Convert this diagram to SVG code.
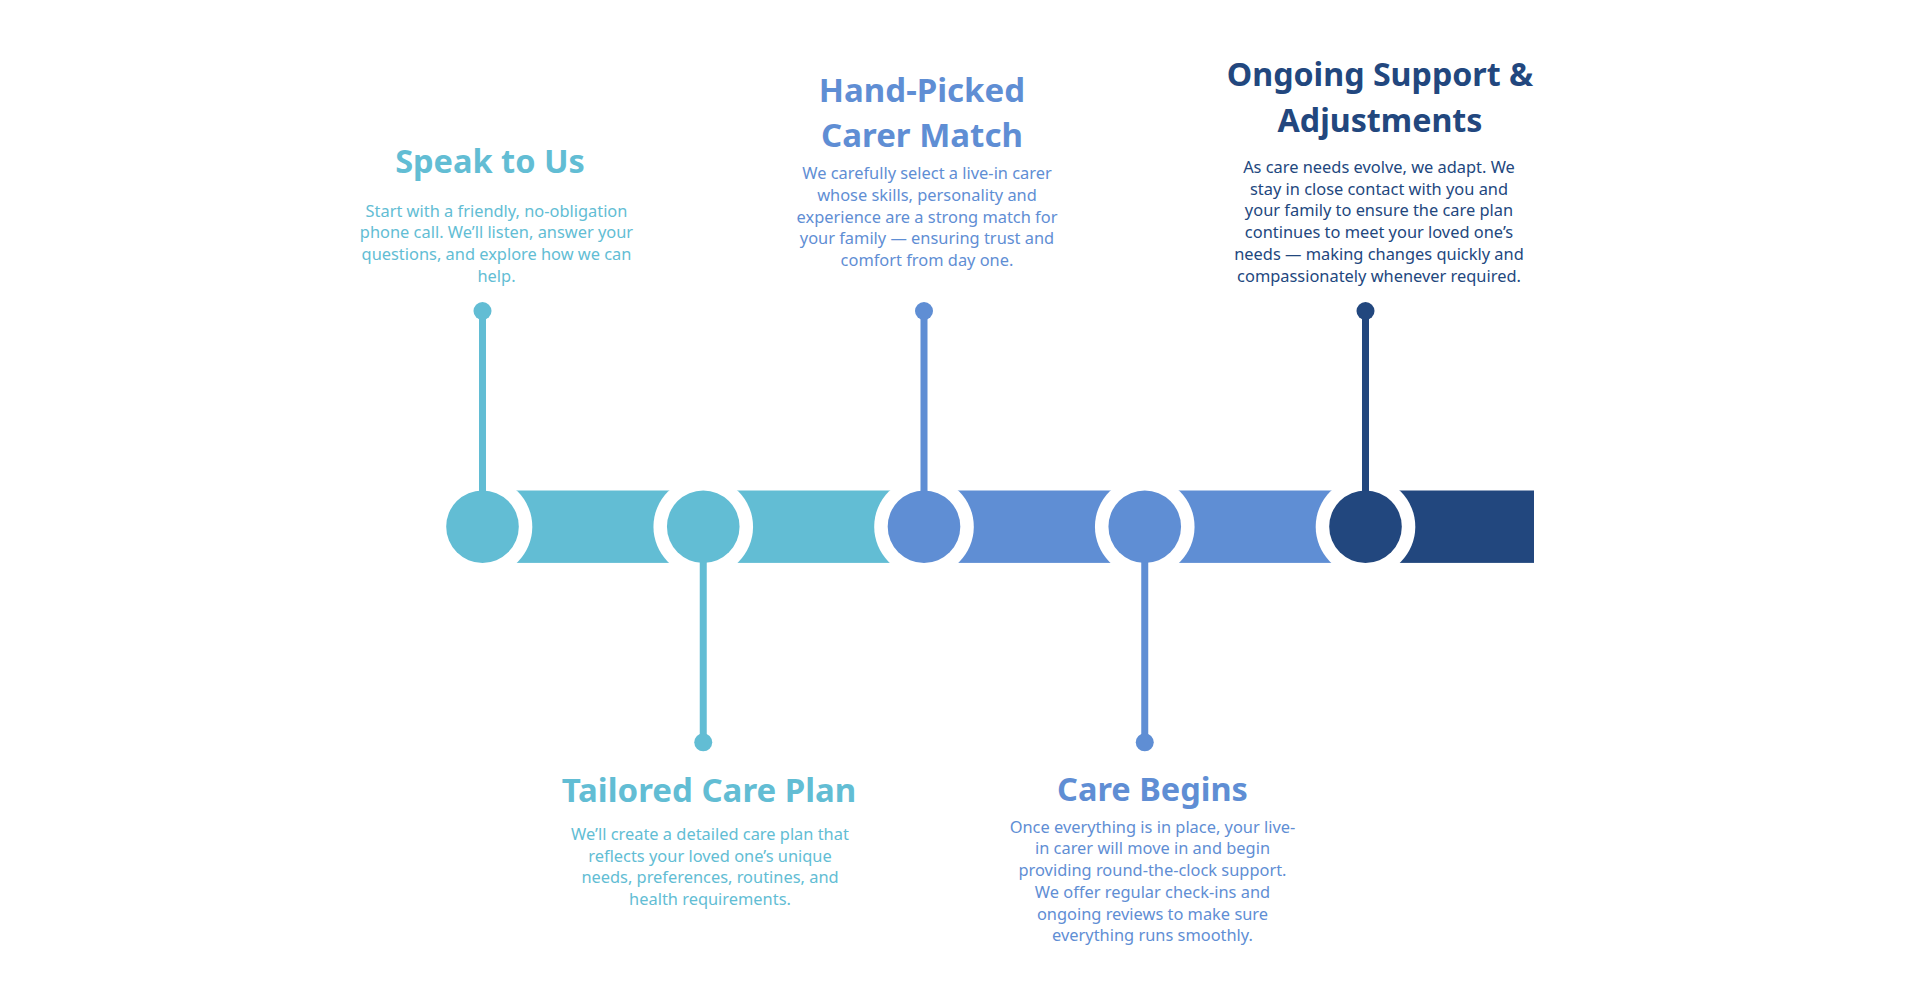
<svg xmlns="http://www.w3.org/2000/svg" width="1920" height="1000" viewBox="0 0 1920 1000">
<style>
.t{font-family:"Noto Sans","Open Sans",sans-serif;font-weight:700;text-anchor:middle}
.b{font-family:"Noto Sans","Open Sans",sans-serif;font-weight:400;text-anchor:middle;font-size:16.4px}
.teal{fill:#62BDD4}
.blue{fill:#5F8ED4}
.navy{fill:#22477E}
.st{stroke-width:7;fill:none}
.gap{fill:#FFFFFF}
</style>
<rect width="1920" height="1000" fill="#FFFFFF"/>
<g id="band">
<rect x="482.5" y="490.5" width="220.75" height="72.4" class="teal"/>
<rect x="703.25" y="490.5" width="220.75" height="72.4" class="teal"/>
<rect x="924" y="490.5" width="220.75" height="72.4" class="blue"/>
<rect x="1144.75" y="490.5" width="220.75" height="72.4" class="blue"/>
<rect x="1365.5" y="490.5" width="168.5" height="72.4" class="navy"/>
<circle cx="482.5" cy="526.7" r="49.8" class="gap"/>
<circle cx="703.25" cy="526.7" r="49.8" class="gap"/>
<circle cx="924" cy="526.7" r="49.8" class="gap"/>
<circle cx="1144.75" cy="526.7" r="49.8" class="gap"/>
<circle cx="1365.5" cy="526.7" r="49.8" class="gap"/>
</g>
<g id="connectors">
<line x1="482.5" y1="311" x2="482.5" y2="500" stroke="#62BDD4" class="st"/>
<line x1="703.25" y1="553" x2="703.25" y2="742" stroke="#62BDD4" class="st"/>
<line x1="924" y1="311" x2="924" y2="500" stroke="#5F8ED4" class="st"/>
<line x1="1144.75" y1="553" x2="1144.75" y2="742" stroke="#5F8ED4" class="st"/>
<line x1="1365.5" y1="311" x2="1365.5" y2="500" stroke="#22477E" class="st"/>
</g>
<g id="node1">
<circle cx="482.5" cy="526.7" r="36.3" class="teal"/>
<circle cx="482.5" cy="311" r="9" class="teal"/>
<text x="490" y="172.5" class="t teal" font-size="32.5">Speak to Us</text>
<text class="b teal"><tspan x="496.5" y="216.7">Start with a friendly, no-obligation</tspan><tspan x="496.5" y="238.4">phone call. We’ll listen, answer your</tspan><tspan x="496.5" y="260.1">questions, and explore how we can</tspan><tspan x="496.5" y="281.8">help.</tspan></text>
</g>
<g id="node2">
<circle cx="703.25" cy="526.7" r="36.3" class="teal"/>
<circle cx="703.25" cy="742.3" r="9" class="teal"/>
<text x="709" y="801.7" class="t teal" font-size="33">Tailored Care Plan</text>
<text class="b teal"><tspan x="710" y="840">We’ll create a detailed care plan that</tspan><tspan x="710" y="861.7">reflects your loved one’s unique</tspan><tspan x="710" y="883.4">needs, preferences, routines, and</tspan><tspan x="710" y="905.1">health requirements.</tspan></text>
</g>
<g id="node3">
<circle cx="924" cy="526.7" r="36.3" class="blue"/>
<circle cx="924" cy="311" r="9" class="blue"/>
<text class="t blue" font-size="33"><tspan x="922" y="101.7">Hand-Picked</tspan><tspan x="922" y="147.3">Carer Match</tspan></text>
<text class="b blue"><tspan x="927" y="179.3">We carefully select a live-in carer</tspan><tspan x="927" y="201">whose skills, personality and</tspan><tspan x="927" y="222.7">experience are a strong match for</tspan><tspan x="927" y="244.4">your family — ensuring trust and</tspan><tspan x="927" y="266.1">comfort from day one.</tspan></text>
</g>
<g id="node4">
<circle cx="1144.75" cy="526.7" r="36.3" class="blue"/>
<circle cx="1144.75" cy="742.3" r="9" class="blue"/>
<text x="1152.5" y="800.7" class="t blue" font-size="32.5">Care Begins</text>
<text class="b blue"><tspan x="1152.5" y="832.7">Once everything is in place, your live-</tspan><tspan x="1152.5" y="854.4">in carer will move in and begin</tspan><tspan x="1152.5" y="876.1">providing round-the-clock support.</tspan><tspan x="1152.5" y="897.8">We offer regular check-ins and</tspan><tspan x="1152.5" y="919.5">ongoing reviews to make sure</tspan><tspan x="1152.5" y="941.2">everything runs smoothly.</tspan></text>
</g>
<g id="node5">
<circle cx="1365.5" cy="526.7" r="36.3" class="navy"/>
<circle cx="1365.5" cy="311" r="9" class="navy"/>
<text class="t navy" font-size="32.2"><tspan x="1380" y="86">Ongoing Support &amp;</tspan><tspan x="1380" y="131.7">Adjustments</tspan></text>
<text class="b navy"><tspan x="1379" y="172.7">As care needs evolve, we adapt. We</tspan><tspan x="1379" y="194.5">stay in close contact with you and</tspan><tspan x="1379" y="216.3">your family to ensure the care plan</tspan><tspan x="1379" y="238.1">continues to meet your loved one’s</tspan><tspan x="1379" y="259.9">needs — making changes quickly and</tspan><tspan x="1379" y="281.7">compassionately whenever required.</tspan></text>
</g>
</svg>
